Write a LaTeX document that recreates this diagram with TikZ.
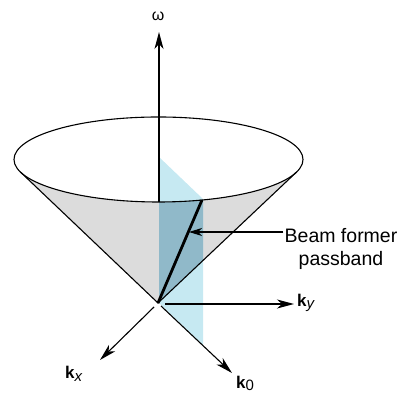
\documentclass[tikz,border=0pt]{standalone}
\usepackage{fontspec}
\setmainfont{Liberation Sans}
\usetikzlibrary{arrows.meta}
\definecolor{conegray}{HTML}{DCDCDC}
\definecolor{planelight}{HTML}{C6E9F2}
\definecolor{planedark}{HTML}{90B9C9}
\begin{document}
\begin{tikzpicture}[x=1pt,y=1pt,
  thin line/.style={line width=1.1pt},
  axis/.style={line width=1.1pt,-{Stealth[length=17pt,width=9pt,inset=5pt]}},
  pointer/.style={line width=1.1pt,-{Stealth[length=13pt,width=8pt,inset=4pt]}},
  lbl/.style={font=\fontsize{17}{20}\selectfont\bfseries,inner sep=0pt}]
\useasboundingbox (0,0) rectangle (407,395);
% key points
\coordinate (C) at (158.5,235.5);
\coordinate (A) at (158,92);
\coordinate (L) at (20.3,223.1);
\coordinate (R) at (296.7,223.1);
\coordinate (P1) at (159,238);
\coordinate (P2) at (203,196);
\coordinate (P3) at (203,50);
\coordinate (P4) at (159,92);
\coordinate (F) at (202,195);
% cone surface
\fill[conegray] (L) arc[start angle=197,end angle=343,x radius=144.5pt,y radius=42.5pt] -- (A) -- cycle;
% plane
\fill[planelight] (P1) -- (P2) -- (P3) -- (P4) -- cycle;
\begin{scope}
  \clip (L) arc[start angle=197,end angle=343,x radius=144.5pt,y radius=42.5pt] -- (A) -- cycle;
  \fill[planedark] (P1) -- (P2) -- (P3) -- (P4) -- cycle;
\end{scope}
% cone outline
\draw[thin line] (C) ellipse[x radius=144.5pt,y radius=42.5pt];
\draw[thin line] (L) -- (A) -- (R);
% omega axis
\coordinate (w0) at (159,193);
\coordinate (w1) at (159,363);
\draw[axis] (w0) -- (w1);
\node[font=\fontsize{16}{18}\selectfont,inner sep=0pt] (om) at (158,379) {ω};
% passband line
\draw[line width=2.8pt] (A) -- (F);
% label
\node[font=\fontsize{19.5}{23}\selectfont,align=center,inner sep=1pt] (beam) at (341,146.3) {Beam former\\passband};
\coordinate (bl) at (0,163);
\coordinate (btip) at (189,163);
\draw[pointer] (beam.west |- bl) -- (btip);
% k axes
\coordinate (ky0) at (165,91);
\coordinate (ky1) at (294,91);
\coordinate (kx0) at (154,88);
\coordinate (kx1) at (100,35);
\coordinate (k00) at (161,89);
\coordinate (k01) at (232,22);
\draw[axis] (ky0) -- (ky1);
\draw[axis] (kx0) -- (kx1);
\draw[axis] (k00) -- (k01);
\node[lbl,anchor=base west] (ky) at (297,88) {k\raisebox{-2pt}{\fontsize{15}{17}\selectfont\mdseries\itshape y}};
\node[lbl,anchor=base west] (kx) at (65,16) {k\raisebox{-3pt}{\fontsize{15}{17}\selectfont\mdseries\itshape x}};
\node[lbl,anchor=base west] (k0) at (236,6) {k\raisebox{-2pt}{\fontsize{15}{17}\selectfont\mdseries 0}};
\end{tikzpicture}
\end{document}
